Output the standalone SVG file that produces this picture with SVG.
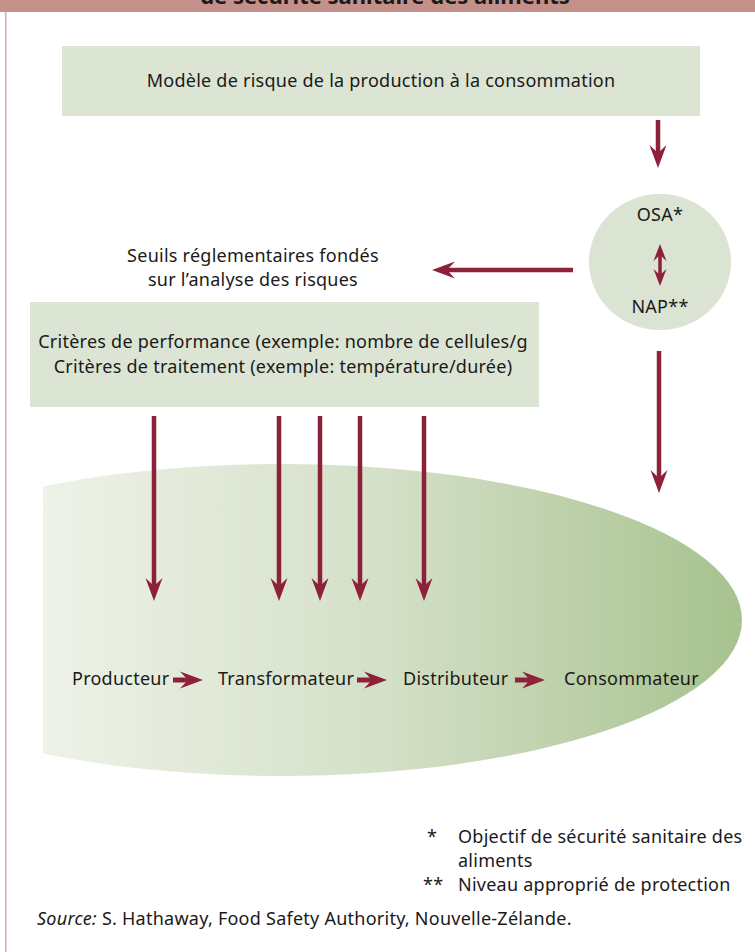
<svg xmlns="http://www.w3.org/2000/svg" width="755" height="952" viewBox="0 0 755 952">
<style>
text{font-family:"Noto Sans","Open Sans","Liberation Sans",sans-serif;font-size:18px;letter-spacing:0.25px;fill:#1a1a1a}
.mid{text-anchor:middle}
.box{fill:#dce4d3}
.arr{stroke:#8c2139;stroke-width:4.5;fill:none}
.fat{stroke:#8c2139;stroke-width:5;fill:none}
</style>
<defs>
<linearGradient id="g" gradientUnits="userSpaceOnUse" x1="43" y1="0" x2="742" y2="0">
<stop offset="0" stop-color="#eef2e8"/>
<stop offset="0.5" stop-color="#d3dfc6"/>
<stop offset="1" stop-color="#a7c28e"/>
</linearGradient>
<clipPath id="cl"><rect x="43" y="400" width="712" height="420"/></clipPath>
<marker id="h" markerUnits="userSpaceOnUse" markerWidth="40" markerHeight="40" refX="0" refY="0" orient="auto" overflow="visible">
<path d="M14,0 L-9,-8.5 L-1,0 L-9,8.5 Z" fill="#8c2139"/>
</marker>
<marker id="hs" markerUnits="userSpaceOnUse" markerWidth="30" markerHeight="30" refX="0" refY="0" orient="auto-start-reverse" overflow="visible">
<path d="M10,0 L-7,-6.5 L-1,0 L-7,6.5 Z" fill="#8c2139"/>
</marker>
</defs>
<rect width="755" height="952" fill="#fff"/>
<g id="header">
<rect x="0" y="0" width="755" height="12" fill="#c4908a"/>
<text class="mid" x="385" y="4" style="font-weight:bold;font-size:22px;letter-spacing:0">de sécurité sanitaire des aliments</text>
<rect x="5" y="12" width="1.5" height="940" fill="#dca9a3"/>
</g>
<g id="ellipse">
<ellipse cx="281" cy="620" rx="461" ry="156" fill="url(#g)" clip-path="url(#cl)"/>
</g>
<g id="model">
<rect class="box" x="62" y="46" width="638" height="70"/>
<text class="mid" x="381" y="87">Modèle de risque de la production à la consommation</text>
</g>
<g id="osa-nap">
<ellipse cx="660" cy="262" rx="71" ry="68" fill="#dbe3d2"/>
<text class="mid" x="660" y="221">OSA*</text>
<text class="mid" x="660" y="313">NAP**</text>
</g>
<g id="seuils">
<text class="mid" x="253" y="262">Seuils réglementaires fondés</text>
<text class="mid" x="253" y="286">sur l’analyse des risques</text>
</g>
<g id="criteres">
<rect class="box" x="30" y="302" width="509" height="105"/>
<text class="mid" x="283" y="348">Critères de performance (exemple: nombre de cellules/g</text>
<text class="mid" x="283" y="373">Critères de traitement (exemple: température/durée)</text>
</g>
<g id="chain">
<text x="72" y="685">Producteur</text>
<text x="218" y="685">Transformateur</text>
<text x="403" y="685">Distributeur</text>
<text x="564" y="685">Consommateur</text>
</g>
<g id="connectors">
<line class="arr" x1="658" y1="120" x2="658" y2="154" marker-end="url(#h)"/>
<line class="arr" x1="659" y1="351" x2="659" y2="479" marker-end="url(#h)"/>
<line class="arr" x1="573" y1="270" x2="446" y2="270" marker-end="url(#h)"/>
<line class="arr" x1="660" y1="254" x2="660" y2="276" marker-end="url(#hs)" marker-start="url(#hs)" style="stroke-width:3.5"/>
<line class="arr" x1="154" y1="416" x2="154" y2="587" marker-end="url(#h)"/>
<line class="arr" x1="279" y1="416" x2="279" y2="587" marker-end="url(#h)"/>
<line class="arr" x1="320" y1="416" x2="320" y2="587" marker-end="url(#h)"/>
<line class="arr" x1="360" y1="416" x2="360" y2="587" marker-end="url(#h)"/>
<line class="arr" x1="424" y1="416" x2="424" y2="587" marker-end="url(#h)"/>
<line class="fat" x1="173" y1="680" x2="189" y2="680" marker-end="url(#h)"/>
<line class="fat" x1="357" y1="680" x2="373" y2="680" marker-end="url(#h)"/>
<line class="fat" x1="515" y1="680" x2="531" y2="680" marker-end="url(#h)"/>
</g>
<g id="notes">
<text x="427" y="843">*</text>
<text x="458" y="843">Objectif de sécurité sanitaire des</text>
<text x="458" y="867">aliments</text>
<text x="423" y="891">**</text>
<text x="458" y="891">Niveau approprié de protection</text>
<text x="37" y="925"><tspan font-style="italic">Source:</tspan> S. Hathaway, Food Safety Authority, Nouvelle-Zélande.</text>
</g>
</svg>
